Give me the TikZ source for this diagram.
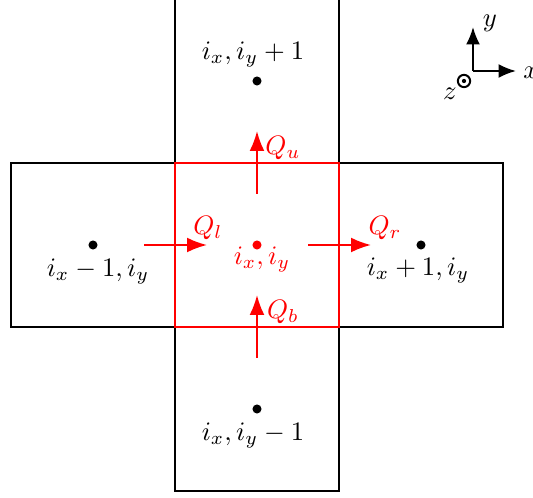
\documentclass[tikz,border=0pt]{standalone}
\usetikzlibrary{arrows.meta}
\begin{document}
\begin{tikzpicture}[x=0.375pt,y=-0.375pt,
  cell/.style={draw=black,line width=0.75pt},
  redcell/.style={draw=red,line width=0.75pt},
  pt/.style={circle,fill=#1,inner sep=0pt,minimum size=3.4pt},
  flux/.style={draw=red,line width=0.75pt,-{Latex[length=7.5pt,width=5.6pt]}},
  axis/.style={draw=black,line width=0.75pt,-{Latex[length=6.5pt,width=5.2pt]}},
  lab/.style={inner sep=0pt,anchor=center},
]
\useasboundingbox (0,0) rectangle (533,498);
\clip (0,0) rectangle (533,498);
% neighbour cells
\draw[cell] (11,163) rectangle (175,327);
\draw[cell] (339,163) rectangle (503,327);
\draw[cell] (175,-10) rectangle (339,163);
\draw[cell] (175,327) rectangle (339,491);
% centre cell
\draw[redcell] (175,163) rectangle (339,327);
% cell centres
\node[pt=black] (L) at (93,245) {};
\node[pt=black] (R) at (421,245) {};
\node[pt=black] (U) at (257,81) {};
\node[pt=black] (B) at (257,409) {};
\node[pt=red] (C) at (257,245) {};
% labels
\node[lab] (lL) at (98,272) {$i_x-1,i_y$};
\node[lab] (lR) at (418,271) {$i_x+1,i_y$};
\node[lab] (lU) at (253,55) {$i_x,i_y+1$};
\node[lab] (lB) at (253,436) {$i_x,i_y-1$};
\node[lab,text=red] (lC) at (262,260) {$i_x,i_y$};
% flux arrows
\coordinate (ls) at (144,245); \coordinate (le) at (207,245);
\coordinate (rs) at (308,245); \coordinate (re) at (371,245);
\coordinate (us) at (257,194); \coordinate (ue) at (257,131);
\coordinate (bs) at (257,358); \coordinate (be) at (257,295);
\draw[flux] (ls) -- (le);
\draw[flux] (rs) -- (re);
\draw[flux] (us) -- (ue);
\draw[flux] (bs) -- (be);
\node[lab,text=red] (Ql) at (208,228) {$Q_l$};
\node[lab,text=red] (Qr) at (385,228) {$Q_r$};
\node[lab,text=red] (Qu) at (283,148) {$Q_u$};
\node[lab,text=red] (Qb) at (283,312) {$Q_b$};
% axes
\coordinate (O) at (473,71);
\coordinate (Xt) at (516,71);
\coordinate (Yt) at (473,27);
\draw[axis] (O) -- (Xt);
\draw[axis] (O) -- (Yt);
\node[lab] (xl) at (531,73) {$x$};
\node[lab] (yl) at (490,23) {$y$};
\node[circle,draw=black,line width=0.75pt,inner sep=0pt,minimum size=4.6pt] (zc) at (464,81) {};
\node[circle,fill=black,inner sep=0pt,minimum size=1.6pt] (zd) at (zc) {};
\node[lab] (zl) at (450,94) {$z$};
\end{tikzpicture}
\end{document}
